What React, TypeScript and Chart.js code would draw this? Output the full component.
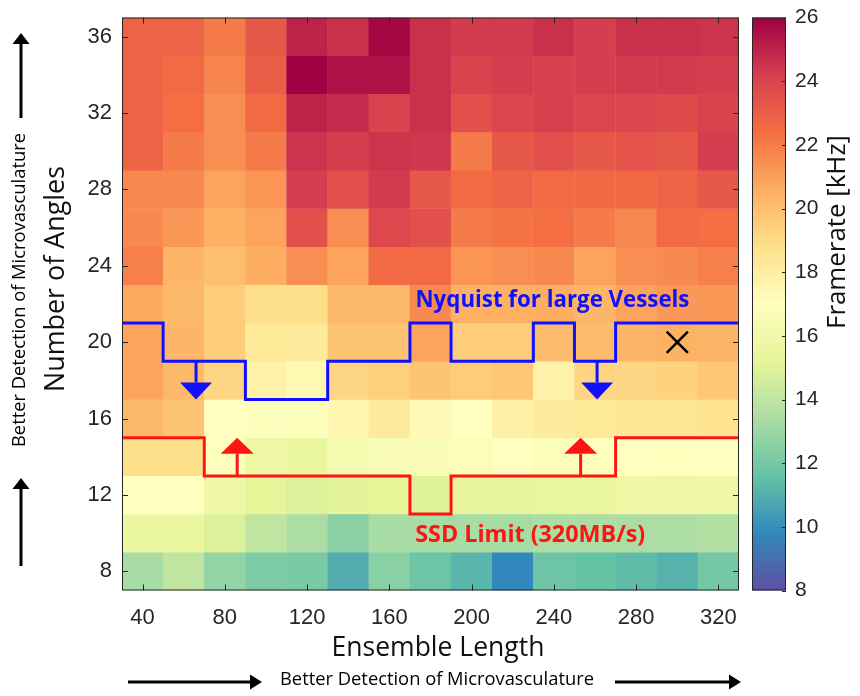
import React, { useEffect, useRef } from "react";
import { Chart, registerables } from "chart.js";

Chart.register(...registerables);

// ---------- data ----------
const ENSEMBLE_LENGTHS = [40, 60, 80, 100, 120, 140, 160, 180, 200, 220, 240, 260, 280, 300, 320];
const ANGLES = [36, 34, 32, 30, 28, 26, 24, 22, 20, 18, 16, 14, 12, 10, 8];

// framerate [kHz], one row per number of angles (columns follow ENSEMBLE_LENGTHS)
const FR_36 = [22.8, 22.8, 22.0, 23.2, 25.0, 24.6, 25.8, 24.6, 24.3, 24.3, 24.6, 24.2, 24.6, 24.6, 24.5];
const FR_34 = [22.8, 22.5, 21.8, 23.0, 26.0, 25.5, 25.5, 24.6, 24.0, 24.2, 24.1, 24.2, 24.3, 24.3, 24.2];
const FR_32 = [22.8, 22.4, 21.5, 22.5, 25.0, 24.8, 24.0, 24.6, 23.5, 23.9, 24.1, 23.9, 23.9, 23.7, 24.0];
const FR_30 = [22.8, 22.0, 21.5, 22.0, 24.5, 24.2, 24.5, 24.4, 22.0, 23.2, 23.5, 23.2, 23.4, 23.2, 24.2];
const FR_28 = [21.6, 21.6, 20.9, 21.3, 24.2, 23.5, 24.3, 23.2, 22.5, 22.8, 22.5, 22.6, 22.6, 22.8, 23.2];
const FR_26 = [21.6, 21.2, 20.5, 20.9, 23.5, 21.5, 23.8, 23.5, 22.0, 22.2, 22.4, 22.0, 21.7, 22.5, 22.4];
const FR_24 = [21.9, 20.3, 20.0, 20.6, 21.5, 20.9, 22.5, 22.5, 21.3, 21.5, 21.6, 20.9, 21.5, 21.6, 21.9];
const FR_22 = [20.7, 20.2, 19.5, 18.8, 18.8, 20.2, 20.2, 21.6, 20.5, 20.5, 20.6, 20.3, 20.9, 21.2, 21.2];
const FR_20 = [20.9, 20.3, 19.5, 18.3, 18.2, 19.8, 19.8, 20.9, 19.5, 19.5, 20.1, 20.1, 20.3, 20.5, 20.3];
const FR_18 = [20.9, 20.2, 19.2, 17.8, 17.4, 19.2, 19.4, 19.8, 19.5, 19.7, 17.8, 19.2, 19.2, 19.3, 19.7];
const FR_16 = [20.2, 19.8, 17.0, 16.8, 16.8, 17.5, 18.2, 17.3, 17.0, 17.9, 18.2, 18.3, 18.4, 18.4, 18.6];
const FR_14 = [18.8, 18.8, 16.9, 15.8, 15.5, 16.3, 16.5, 16.6, 16.7, 17.0, 16.7, 16.9, 17.0, 16.9, 17.0];
const FR_12 = [17.0, 17.0, 15.8, 15.2, 14.9, 15.1, 15.2, 15.0, 15.3, 15.3, 15.4, 15.4, 15.8, 15.8, 15.8];
const FR_10 = [15.6, 15.5, 14.9, 14.0, 13.4, 12.5, 13.3, 13.3, 13.3, 13.3, 13.4, 13.4, 13.4, 13.4, 13.6];
const FR_8 = [13.3, 14.0, 12.8, 12.2, 12.1, 10.9, 12.5, 11.8, 11.2, 9.8, 11.8, 11.6, 11.4, 11.1, 12.0];
const FRAMERATE_ROWS = [FR_36, FR_34, FR_32, FR_30, FR_28, FR_26, FR_24, FR_22, FR_20, FR_18, FR_16, FR_14, FR_12, FR_10, FR_8];

const X_TICKS = [40, 80, 120, 160, 200, 240, 280, 320];
const Y_TICKS = [8, 12, 16, 20, 24, 28, 32, 36];
const CB_TICKS = [8, 10, 12, 14, 16, 18, 20, 22, 24, 26];

// step limits
const NYQUIST_X = [30, 50, 90, 130, 170, 190, 230, 250, 270, 330];
const NYQUIST_Y = [21, 19, 17, 19, 21, 19, 21, 19, 21, 21];
const SSD_X = [30, 70, 170, 190, 270, 330];
const SSD_Y = [15, 13, 11, 13, 15, 15];
const NYQUIST_ARROW_X = [66, 261];
const NYQUIST_ARROW_FROM = 19;
const NYQUIST_ARROW_TO = 17;
const SSD_ARROW_X = [86, 253];
const SSD_ARROW_FROM = 13;
const SSD_ARROW_TO = 15;
const MARKER_X = [300];
const MARKER_Y = [20];

const NYQUIST_LABEL = "Nyquist for large Vessels";
const SSD_LABEL = "SSD Limit (320MB/s)";
const NYQUIST_LABEL_POS = [239.3, 22.15];
const SSD_LABEL_POS = [228.5, 9.9];

// Spectral colormap, low (8) -> high (26)
const SPECTRAL = ["#5e4fa2", "#3288bd", "#66c2a5", "#abdda4", "#e6f598", "#ffffbf", "#fee08b", "#fdae61", "#f46d43", "#d53e4f", "#9e0142"];
const CMIN = 8;
const CMAX = 26;

const BLUE = "#1010ff";
const RED = "#ff1414";
const INK = "#262626";
const LABEL_FONT = "'Open Sans', Lato, sans-serif";
const TICK_FONT = "'Liberation Sans', Arial, sans-serif";

function hexRgb(h: string) {
  return [parseInt(h.slice(1, 3), 16), parseInt(h.slice(3, 5), 16), parseInt(h.slice(5, 7), 16)];
}
const SPECTRAL_RGB = SPECTRAL.map(hexRgb);

function colorFor(v: number) {
  let t = (v - CMIN) / (CMAX - CMIN);
  t = Math.max(0, Math.min(1, t));
  const p = t * (SPECTRAL_RGB.length - 1);
  const i = Math.min(Math.floor(p), SPECTRAL_RGB.length - 2);
  const f = p - i;
  const a = SPECTRAL_RGB[i];
  const b = SPECTRAL_RGB[i + 1];
  const c = a.map((av, k) => Math.round(av + (b[k] - av) * f));
  return `rgb(${c[0]},${c[1]},${c[2]})`;
}

function fitFont(ctx: CanvasRenderingContext2D, text: string, weight: string, family: string, width: number) {
  ctx.font = `${weight} 100px ${family}`;
  const w = ctx.measureText(text).width || 1;
  const size = (100 * width) / w;
  ctx.font = `${weight} ${size.toFixed(2)}px ${family}`;
}

function drawVArrow(ctx: CanvasRenderingContext2D, x: number, yTail: number, yTip: number, headW: number, headH: number, lw: number, color: string) {
  const dir = yTip > yTail ? 1 : -1;
  const yBase = yTip - dir * headH;
  ctx.strokeStyle = color;
  ctx.fillStyle = color;
  ctx.lineWidth = lw;
  ctx.beginPath();
  ctx.moveTo(x, yTail);
  ctx.lineTo(x, yBase);
  ctx.stroke();
  ctx.beginPath();
  ctx.moveTo(x, yTip);
  ctx.lineTo(x - headW / 2, yBase);
  ctx.lineTo(x + headW / 2, yBase);
  ctx.closePath();
  ctx.fill();
}

function drawHArrow(ctx: CanvasRenderingContext2D, y: number, xTail: number, xTip: number, headW: number, headH: number, lw: number, color: string) {
  const dir = xTip > xTail ? 1 : -1;
  const xBase = xTip - dir * headH;
  ctx.strokeStyle = color;
  ctx.fillStyle = color;
  ctx.lineWidth = lw;
  ctx.beginPath();
  ctx.moveTo(xTail, y);
  ctx.lineTo(xBase, y);
  ctx.stroke();
  ctx.beginPath();
  ctx.moveTo(xTip, y);
  ctx.lineTo(xBase, y - headW / 2);
  ctx.lineTo(xBase, y + headW / 2);
  ctx.closePath();
  ctx.fill();
}

const decorPlugin = {
  id: "decor",
  afterDatasetsDraw(chart: any) {
    const { ctx, chartArea: ca, scales } = chart;
    const xs = scales.x;
    const ys = scales.y;
    const cb = scales.cb;
    ctx.save();

    // annotation arrows
    NYQUIST_ARROW_X.forEach((v) => {
      drawVArrow(ctx, xs.getPixelForValue(v), ys.getPixelForValue(NYQUIST_ARROW_FROM), ys.getPixelForValue(NYQUIST_ARROW_TO), 32, 17, 3, BLUE);
    });
    SSD_ARROW_X.forEach((v) => {
      drawVArrow(ctx, xs.getPixelForValue(v), ys.getPixelForValue(SSD_ARROW_FROM), ys.getPixelForValue(SSD_ARROW_TO), 33, 16, 3, RED);
    });

    // annotation labels
    ctx.textAlign = "center";
    ctx.textBaseline = "middle";
    fitFont(ctx, NYQUIST_LABEL, "bold", LABEL_FONT, 274);
    ctx.fillStyle = BLUE;
    ctx.fillText(NYQUIST_LABEL, xs.getPixelForValue(NYQUIST_LABEL_POS[0]), ys.getPixelForValue(NYQUIST_LABEL_POS[1]));
    fitFont(ctx, SSD_LABEL, "bold", LABEL_FONT, 230);
    ctx.fillStyle = RED;
    ctx.fillText(SSD_LABEL, xs.getPixelForValue(SSD_LABEL_POS[0]), ys.getPixelForValue(SSD_LABEL_POS[1]));

    // plot frame + inward ticks
    ctx.strokeStyle = INK;
    ctx.lineWidth = 1;
    ctx.strokeRect(ca.left + 0.5, ca.top + 0.5, ca.right - ca.left - 1, ca.bottom - ca.top - 1);
    ctx.beginPath();
    X_TICKS.forEach((v) => {
      const px = Math.round(xs.getPixelForValue(v)) + 0.5;
      ctx.moveTo(px, ca.bottom);
      ctx.lineTo(px, ca.bottom - 6);
      ctx.moveTo(px, ca.top);
      ctx.lineTo(px, ca.top + 6);
    });
    Y_TICKS.forEach((v) => {
      const py = Math.round(ys.getPixelForValue(v)) + 0.5;
      ctx.moveTo(ca.left, py);
      ctx.lineTo(ca.left + 6, py);
      ctx.moveTo(ca.right, py);
      ctx.lineTo(ca.right - 6, py);
    });
    ctx.stroke();

    // colorbar
    const cbL = 752;
    const cbR = 786;
    const cTop = cb.getPixelForValue(CMAX);
    const cBot = cb.getPixelForValue(CMIN);
    const grad = ctx.createLinearGradient(0, cBot, 0, cTop);
    SPECTRAL.forEach((c, i) => grad.addColorStop(i / (SPECTRAL.length - 1), c));
    ctx.fillStyle = grad;
    ctx.fillRect(cbL, cTop, cbR - cbL, cBot - cTop);
    ctx.strokeStyle = INK;
    ctx.lineWidth = 1;
    ctx.strokeRect(cbL + 0.5, cTop + 0.5, cbR - cbL - 1, cBot - cTop - 1);
    ctx.beginPath();
    CB_TICKS.forEach((v) => {
      const py = Math.round(cb.getPixelForValue(v)) + 0.5;
      ctx.moveTo(cbR, py);
      ctx.lineTo(cbR - 4, py);
    });
    ctx.stroke();

    // axis titles
    ctx.fillStyle = "#111";
    ctx.textAlign = "center";
    ctx.textBaseline = "middle";
    fitFont(ctx, "Ensemble Length", "normal", LABEL_FONT, 213);
    ctx.fillText("Ensemble Length", 438, 648);
    ctx.save();
    fitFont(ctx, "Number of Angles", "normal", LABEL_FONT, 226);
    ctx.translate(56, 279);
    ctx.rotate(-Math.PI / 2);
    ctx.fillText("Number of Angles", 0, 0);
    ctx.restore();
    ctx.save();
    fitFont(ctx, "Framerate [kHz]", "normal", LABEL_FONT, 194);
    ctx.translate(838, 232);
    ctx.rotate(-Math.PI / 2);
    ctx.fillText("Framerate [kHz]", 0, 0);
    ctx.restore();

    // side notes
    ctx.fillStyle = "#000";
    fitFont(ctx, "Better Detection of Microvasculature", "normal", LABEL_FONT, 314);
    ctx.fillText("Better Detection of Microvasculature", 437, 680);
    ctx.save();
    ctx.translate(20, 290);
    ctx.rotate(-Math.PI / 2);
    ctx.fillText("Better Detection of Microvasculature", 0, 0);
    ctx.restore();
    drawHArrow(ctx, 682, 128, 262, 15, 12, 3, "#000");
    drawHArrow(ctx, 682, 615, 741, 15, 12, 3, "#000");
    drawVArrow(ctx, 21, 118, 33, 17, 11, 3, "#000");
    drawVArrow(ctx, 21, 566, 478, 17, 11, 3, "#000");

    ctx.restore();
  },
};

export default function App() {
  const ref = useRef<HTMLCanvasElement | null>(null);

  useEffect(() => {
    const canvas = ref.current;
    if (!canvas) return;

    const cellSets = ANGLES.map((a, r) => ({
      type: "bar" as const,
      label: `angles ${a}`,
      data: ENSEMBLE_LENGTHS.map((e, c) => ({ x: e, y: [a - 1.01, a + 1.01], v: FRAMERATE_ROWS[r][c] })),
      backgroundColor: (ctx: any) => colorFor(ctx.raw ? ctx.raw.v : CMIN),
      borderWidth: 0,
      grouped: false,
      barPercentage: 1.01,
      categoryPercentage: 1,
      order: 10,
    }));

    const chart = new Chart(canvas, {
      type: "bar",
      data: {
        datasets: [
          ...cellSets,
          {
            type: "line",
            label: "Nyquist",
            data: NYQUIST_X.map((x, i) => ({ x, y: NYQUIST_Y[i] })),
            stepped: "before",
            borderColor: BLUE,
            borderWidth: 3,
            pointRadius: 0,
            fill: false,
            order: 2,
          },
          {
            type: "line",
            label: "SSD",
            data: SSD_X.map((x, i) => ({ x, y: SSD_Y[i] })),
            stepped: "before",
            borderColor: RED,
            borderWidth: 3,
            pointRadius: 0,
            fill: false,
            order: 2,
          },
          {
            type: "scatter",
            label: "marker",
            data: MARKER_X.map((x, i) => ({ x, y: MARKER_Y[i] })),
            pointStyle: "crossRot",
            pointRadius: 15,
            borderColor: "#000",
            borderWidth: 2.5,
            order: 1,
          },
        ] as any,
      },
      options: {
        responsive: false,
        devicePixelRatio: 1,
        animation: false,
        layout: { padding: { top: 15.5, left: 0, right: 0, bottom: 0 } },
        plugins: { legend: { display: false }, tooltip: { enabled: false } },
        scales: {
          x: {
            type: "linear",
            position: "bottom",
            min: 30,
            max: 330,
            offset: false,
            grid: { display: false, drawTicks: false },
            border: { display: false },
            afterBuildTicks: (s: any) => {
              s.ticks = X_TICKS.map((v) => ({ value: v }));
            },
            afterFit: (s: any) => {
              s.height = 105.5;
            },
            ticks: {
              autoSkip: false,
              maxRotation: 0,
              padding: 14,
              color: INK,
              font: { family: TICK_FONT, size: 22 },
            },
          },
          y: {
            type: "linear",
            position: "left",
            min: 7,
            max: 37,
            grid: { display: false, drawTicks: true, tickLength: 10 },
            border: { display: false },
            afterBuildTicks: (s: any) => {
              s.ticks = Y_TICKS.map((v) => ({ value: v }));
            },
            afterFit: (s: any) => {
              s.width = 122;
            },
            ticks: {
              padding: 0,
              color: INK,
              font: { family: TICK_FONT, size: 22 },
            },
          },
          cb: {
            type: "linear",
            position: "right",
            min: CMIN,
            max: CMAX,
            grid: { display: false, drawTicks: true, tickLength: 56 },
            border: { display: false },
            afterBuildTicks: (s: any) => {
              s.ticks = CB_TICKS.map((v) => ({ value: v }));
            },
            afterFit: (s: any) => {
              s.width = 121;
            },
            ticks: {
              padding: 0,
              color: INK,
              font: { family: TICK_FONT, size: 21 },
            },
          },
        },
      } as any,
      plugins: [decorPlugin],
    });

    return () => chart.destroy();
  }, []);

  return (
    <div style={{ position: "absolute", left: 0, top: 0, width: 860, height: 696, background: "#fff" }}>
      <canvas ref={ref} width={860} height={696} style={{ display: "block" }} />
    </div>
  );
}
